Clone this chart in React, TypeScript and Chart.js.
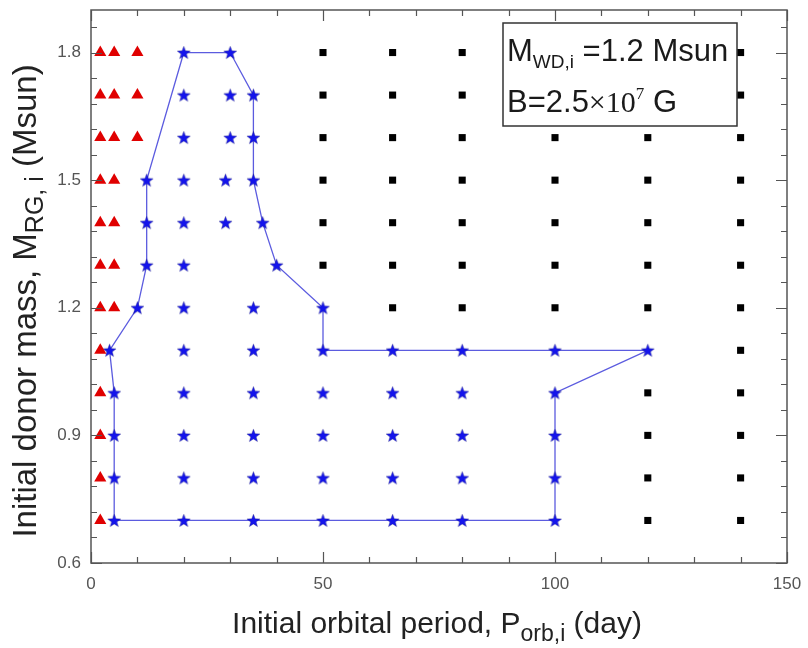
import React, { useEffect, useRef } from "react";
import { Chart, registerables } from "chart.js";

Chart.register(...registerables);

// Red triangles (left region)
const triX = [2, 5, 10, 2, 5, 10, 2, 5, 10, 2, 5, 2, 5, 2, 5, 2, 5, 2, 2, 2, 2, 2];
const triY = [1.8, 1.8, 1.8, 1.7, 1.7, 1.7, 1.6, 1.6, 1.6, 1.5, 1.5, 1.4, 1.4, 1.3, 1.3, 1.2, 1.2, 1.1, 1.0, 0.9, 0.8, 0.7];

// Blue stars (middle region)
const starX = [
  20, 30,
  20, 30, 35,
  20, 30, 35,
  12, 20, 29, 35,
  12, 20, 29, 37,
  12, 20, 40,
  10, 20, 35, 50,
  4, 20, 35, 50, 65, 80, 100, 120,
  5, 20, 35, 50, 65, 80, 100,
  5, 20, 35, 50, 65, 80, 100,
  5, 20, 35, 50, 65, 80, 100,
  5, 20, 35, 50, 65, 80, 100,
];
const starY = [
  1.8, 1.8,
  1.7, 1.7, 1.7,
  1.6, 1.6, 1.6,
  1.5, 1.5, 1.5, 1.5,
  1.4, 1.4, 1.4, 1.4,
  1.3, 1.3, 1.3,
  1.2, 1.2, 1.2, 1.2,
  1.1, 1.1, 1.1, 1.1, 1.1, 1.1, 1.1, 1.1,
  1.0, 1.0, 1.0, 1.0, 1.0, 1.0, 1.0,
  0.9, 0.9, 0.9, 0.9, 0.9, 0.9, 0.9,
  0.8, 0.8, 0.8, 0.8, 0.8, 0.8, 0.8,
  0.7, 0.7, 0.7, 0.7, 0.7, 0.7, 0.7,
];

// Black squares (right region)
const sqX = [
  50, 65, 80, 100, 120, 140,
  50, 65, 80, 100, 120, 140,
  50, 65, 80, 100, 120, 140,
  50, 65, 80, 100, 120, 140,
  50, 65, 80, 100, 120, 140,
  50, 65, 80, 100, 120, 140,
  65, 80, 100, 120, 140,
  140,
  120, 140,
  120, 140,
  120, 140,
  120, 140,
];
const sqY = [
  1.8, 1.8, 1.8, 1.8, 1.8, 1.8,
  1.7, 1.7, 1.7, 1.7, 1.7, 1.7,
  1.6, 1.6, 1.6, 1.6, 1.6, 1.6,
  1.5, 1.5, 1.5, 1.5, 1.5, 1.5,
  1.4, 1.4, 1.4, 1.4, 1.4, 1.4,
  1.3, 1.3, 1.3, 1.3, 1.3, 1.3,
  1.2, 1.2, 1.2, 1.2, 1.2,
  1.1,
  1.0, 1.0,
  0.9, 0.9,
  0.8, 0.8,
  0.7, 0.7,
];

// Boundary outline of the star region
const outlineX = [20, 30, 35, 35, 35, 37, 40, 50, 50, 65, 80, 100, 120, 100, 100, 100, 100, 80, 65, 50, 35, 20, 5, 5, 5, 5, 4, 10, 12, 12, 12, 20];
const outlineY = [1.8, 1.8, 1.7, 1.6, 1.5, 1.4, 1.3, 1.2, 1.1, 1.1, 1.1, 1.1, 1.1, 1.0, 0.9, 0.8, 0.7, 0.7, 0.7, 0.7, 0.7, 0.7, 0.7, 0.8, 0.9, 1.0, 1.1, 1.2, 1.3, 1.4, 1.5, 1.8];

const xTickLabels = [0, 50, 100, 150];
const yTickLabels = [0.6, 0.9, 1.2, 1.5, 1.8];

const SANS = '"Liberation Sans", Arial, sans-serif';
const SERIF = '"Liberation Serif", "Times New Roman", serif';

function pts(xs: number[], ys: number[]) {
  return xs.map((x, i) => ({ x, y: ys[i] }));
}

function makeStar(color: string) {
  const c = document.createElement("canvas");
  const s = 15;
  c.width = s;
  c.height = s;
  const g = c.getContext("2d")!;
  const cx = s / 2, cy = s / 2 + 0.6, R = 6.8, r = 2.8;
  g.beginPath();
  for (let i = 0; i < 10; i++) {
    const rad = i % 2 === 0 ? R : r;
    const a = -Math.PI / 2 + (i * Math.PI) / 5;
    const px = cx + rad * Math.cos(a);
    const py = cy + rad * Math.sin(a);
    if (i === 0) g.moveTo(px, py);
    else g.lineTo(px, py);
  }
  g.closePath();
  g.fillStyle = color;
  g.fill();
  g.strokeStyle = "rgba(20,20,120,0.6)";
  g.lineWidth = 0.6;
  g.stroke();
  return c;
}

type Part = { t: string; size: number; dy?: number; family?: string };

function drawParts(ctx: CanvasRenderingContext2D, parts: Part[], x: number, y: number, align: "left" | "center") {
  let total = 0;
  const widths = parts.map((p) => {
    ctx.font = `${p.size}px ${p.family || SANS}`;
    const w = ctx.measureText(p.t).width;
    total += w;
    return w;
  });
  let cx = align === "center" ? x - total / 2 : x;
  parts.forEach((p, i) => {
    ctx.font = `${p.size}px ${p.family || SANS}`;
    ctx.fillText(p.t, cx, y + (p.dy || 0));
    cx += widths[i];
  });
}

const decorPlugin = {
  id: "decor",
  afterDatasetsDraw(chart: any) {
    const { ctx, chartArea: a, scales } = chart;
    const xs = scales.x;
    const ys = scales.y;
    ctx.save();
    ctx.strokeStyle = "#555";
    ctx.lineWidth = 1.5;
    ctx.strokeRect(a.left, a.top, a.right - a.left, a.bottom - a.top);
    ctx.lineWidth = 1.2;
    ctx.beginPath();
    for (let v = 0; v <= 150; v += 10) {
      const px = Math.round(xs.getPixelForValue(v)) + 0.5;
      const len = v % 50 === 0 ? 11 : 6;
      ctx.moveTo(px, a.bottom);
      ctx.lineTo(px, a.bottom - len);
      ctx.moveTo(px, a.top);
      ctx.lineTo(px, a.top + len);
    }
    for (let i = 0; i <= 21; i++) {
      const v = 0.6 + i * 0.06;
      if (v > 1.9 + 1e-9) break;
      const py = Math.round(ys.getPixelForValue(v)) + 0.5;
      const len = i % 5 === 0 ? 11 : 6;
      ctx.moveTo(a.left, py);
      ctx.lineTo(a.left + len, py);
      ctx.moveTo(a.right, py);
      ctx.lineTo(a.right - len, py);
    }
    ctx.stroke();

    // annotation box
    const bx = 503, by = 23, bw = 234, bh = 103;
    ctx.fillStyle = "#fff";
    ctx.fillRect(bx, by, bw, bh);
    ctx.strokeStyle = "#333";
    ctx.lineWidth = 1.5;
    ctx.strokeRect(bx, by, bw, bh);
    ctx.fillStyle = "#1a1a1a";
    ctx.textBaseline = "alphabetic";
    drawParts(ctx, [
      { t: "M", size: 31 },
      { t: "WD,i", size: 19, dy: 7 },
      { t: " =1.2 Msun", size: 31 },
    ], 507, 61, "left");
    drawParts(ctx, [
      { t: "B=2.5", size: 31 },
      { t: "\u00d710", size: 30, family: SERIF },
      { t: "7", size: 17, dy: -13, family: SERIF },
      { t: " G", size: 31 },
    ], 507, 112, "left");

    // axis titles
    ctx.fillStyle = "#222";
    drawParts(ctx, [
      { t: "Initial orbital period, P", size: 30 },
      { t: "orb,i", size: 23, dy: 8 },
      { t: " (day)", size: 30 },
    ], 437, 633, "center");

    ctx.save();
    ctx.translate(36, 301);
    ctx.rotate(-Math.PI / 2);
    drawParts(ctx, [
      { t: "Initial donor mass, M", size: 33 },
      { t: "RG, i", size: 25, dy: 7 },
      { t: " (Msun)", size: 33 },
    ], 0, 0, "center");
    ctx.restore();
    ctx.restore();
  },
};

export default function App() {
  const ref = useRef<HTMLCanvasElement>(null);
  useEffect(() => {
    document.body.style.margin = "0";
    const canvas = ref.current!;
    const star = makeStar("#1414ec");
    const chart = new Chart(canvas, {
      type: "scatter",
      data: {
        datasets: [
          {
            label: "triangles",
            data: pts(triX, triY),
            pointStyle: "triangle",
            pointRadius: 7,
            backgroundColor: "#e00000",
            borderColor: "#e00000",
            borderWidth: 0,
            order: 1,
          },
          {
            label: "stars",
            data: pts(starX, starY),
            pointStyle: star as any,
            pointRadius: 7,
            order: 1,
          },
          {
            label: "squares",
            data: pts(sqX, sqY),
            pointStyle: "rect",
            pointRadius: 5,
            backgroundColor: "#000",
            borderColor: "#000",
            borderWidth: 0,
            order: 1,
          },
          {
            label: "outline",
            data: pts(outlineX, outlineY),
            showLine: true,
            pointRadius: 0,
            borderColor: "rgba(50,50,215,0.8)",
            borderWidth: 1.3,
            fill: false,
            order: 5,
          } as any,
        ],
      },
      options: {
        animation: false,
        responsive: false,
        devicePixelRatio: 1,
        layout: { padding: { left: 0, right: 21, top: 10, bottom: 0 } },
        plugins: { legend: { display: false }, tooltip: { enabled: false } },
        events: [],
        scales: {
          x: {
            type: "linear",
            min: 0,
            max: 150,
            grid: { display: false, drawTicks: false },
            border: { display: false },
            afterBuildTicks: (s: any) => {
              s.ticks = xTickLabels.map((v) => ({ value: v }));
            },
            afterFit: (s: any) => {
              s.height = 85;
              s.paddingLeft = 0;
              s.paddingRight = 0;
            },
            ticks: {
              padding: 11,
              color: "#555",
              font: { family: SANS, size: 17 },
              callback: (v: any) => String(v),
              maxRotation: 0,
            },
          },
          y: {
            type: "linear",
            min: 0.6,
            max: 1.9,
            grid: { display: false, drawTicks: false },
            border: { display: false },
            afterBuildTicks: (s: any) => {
              s.ticks = yTickLabels.map((v) => ({ value: v }));
            },
            afterFit: (s: any) => {
              s.width = 91;
              s.paddingTop = 0;
              s.paddingBottom = 0;
            },
            ticks: {
              padding: 10,
              color: "#555",
              font: { family: SANS, size: 17 },
              callback: (v: any) => Number(v).toFixed(1),
            },
          },
        },
      },
      plugins: [decorPlugin],
    });
    return () => chart.destroy();
  }, []);
  return (
    <div style={{ width: 808, height: 648, background: "#fff" }}>
      <canvas ref={ref} width={808} height={648} />
    </div>
  );
}
